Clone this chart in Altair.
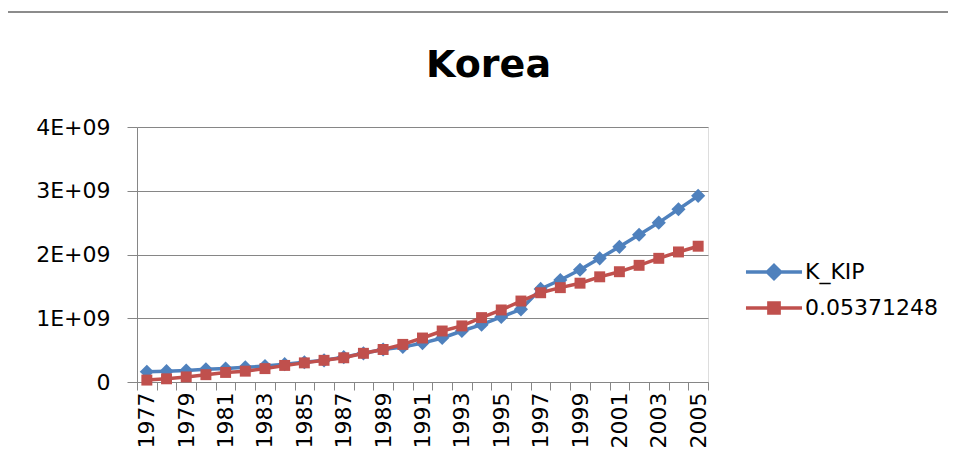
import altair as alt
import pandas as pd

# ---- data ----
years = list(range(1977, 2006))
k_kip = [0.16, 0.17, 0.18, 0.20, 0.21, 0.23, 0.25, 0.28, 0.31, 0.34,
         0.39, 0.45, 0.51, 0.55, 0.61, 0.69, 0.80, 0.90, 1.02, 1.14,
         1.46, 1.60, 1.76, 1.94, 2.12, 2.31, 2.50, 2.71, 2.92]  # x 1e9
scaled = [0.03, 0.05, 0.08, 0.115, 0.15, 0.17, 0.21, 0.26, 0.30, 0.34,
          0.38, 0.45, 0.51, 0.59, 0.69, 0.80, 0.88, 1.01, 1.13, 1.27,
          1.40, 1.48, 1.55, 1.65, 1.73, 1.83, 1.94, 2.04, 2.13]  # x 1e9
series_names = ["K_KIP", "0.05371248"]
series_colors = ["#4F81BD", "#C0504D"]
label_years = years[::2]
y_ticks = [0, 1e9, 2e9, 3e9, 4e9]

rows = []
for i, yr in enumerate(years):
    rows.append({"year": yr, "series": series_names[0], "value": k_kip[i] * 1e9})
    rows.append({"year": yr, "series": series_names[1], "value": scaled[i] * 1e9})
df = pd.DataFrame(rows)

boundaries = [yr - 0.5 for yr in years] + [years[-1] + 0.5]

FONT = "DejaVu Sans"
GRAY = "#868686"

xscale = alt.Scale(domain=[years[0] - 0.5, years[-1] + 0.5], nice=False, zero=False)
yscale = alt.Scale(domain=[0, 4e9], nice=False)

yaxis = alt.Axis(values=y_ticks, grid=True, gridColor=GRAY, gridWidth=1,
                 domainColor=GRAY, tickColor=GRAY, tickSize=10, labelPadding=17,
                 labelFontSize=22, labelFont=FONT, labelColor="black",
                 labelExpr="datum.value == 0 ? '0' : format(datum.value / 1e9, 'd') + 'E+09'")

xaxis_ticks = alt.Axis(values=boundaries, labels=False, grid=False, orient="bottom",
                       domainColor=GRAY, tickColor=GRAY, tickSize=8)
xaxis_labels = alt.Axis(values=label_years, ticks=False, domain=False, grid=False,
                        orient="bottom", labelAngle=270, labelPadding=10,
                        labelFontSize=22, labelFont=FONT, labelColor="black",
                        format="d", labelOverlap=False)

legend_paths = [
    "M-4.67,0L4.67,0M0,-1.1L1.1,0L0,1.1L-1.1,0Z",
    "M-4.67,0L4.67,0M-0.85,-0.85L0.85,-0.85L0.85,0.85L-0.85,0.85Z",
]
shapes = ["diamond", "square"]
point_sizes = [200, 120]
legend_ys = [134, 170]
axes = [xaxis_ticks, xaxis_labels]


def series_layer(k):
    name = series_names[k]
    color = series_colors[k]
    base = alt.Chart(df).transform_filter(alt.datum.series == name)
    x = alt.X("year:Q", scale=xscale, axis=axes[k], title=None)
    y = alt.Y("value:Q", scale=yscale, axis=yaxis, title=None)
    c = alt.Color("series:N", scale=alt.Scale(domain=[name], range=[color]),
                  legend=alt.Legend(title=None, orient="none", legendX=626,
                                    legendY=legend_ys[k], symbolType=legend_paths[k],
                                    symbolSize=144, symbolStrokeWidth=3.5,
                                    symbolStrokeColor=color, symbolFillColor=color,
                                    symbolOpacity=1, labelFontSize=22, labelFont=FONT,
                                    labelColor="black", labelOffset=20, padding=0))
    line = base.mark_line(strokeWidth=3.5).encode(x=x, y=y, color=c)
    pts = base.mark_point(filled=True, shape=shapes[k], size=point_sizes[k],
                          opacity=1).encode(x=x, y=y, color=c)
    return alt.layer(line, pts)


border = alt.Chart(alt.Data(values=[{"k": 0}])).mark_rule(
    color="#8C8C8C", strokeWidth=2
).encode(x=alt.value(-129), x2=alt.value(811), y=alt.value(-115))

chart = alt.layer(border, series_layer(0), series_layer(1)).resolve_scale(
    color="independent"
).resolve_axis(x="independent").properties(
    width=571,
    height=255,
    title=alt.TitleParams("Korea", fontSize=38, font=FONT, fontWeight="bold",
                          anchor="middle", frame="group", dx=66,
                          baseline="alphabetic", offset=-104, color="black"),
    autosize=alt.AutoSizeParams(type="none"),
    padding={"left": 129, "top": 119, "right": 240, "bottom": 76},
).configure_view(stroke=None).configure(background="white")

chart.save("out.html", embed_options={"renderer": "svg", "actions": False})
